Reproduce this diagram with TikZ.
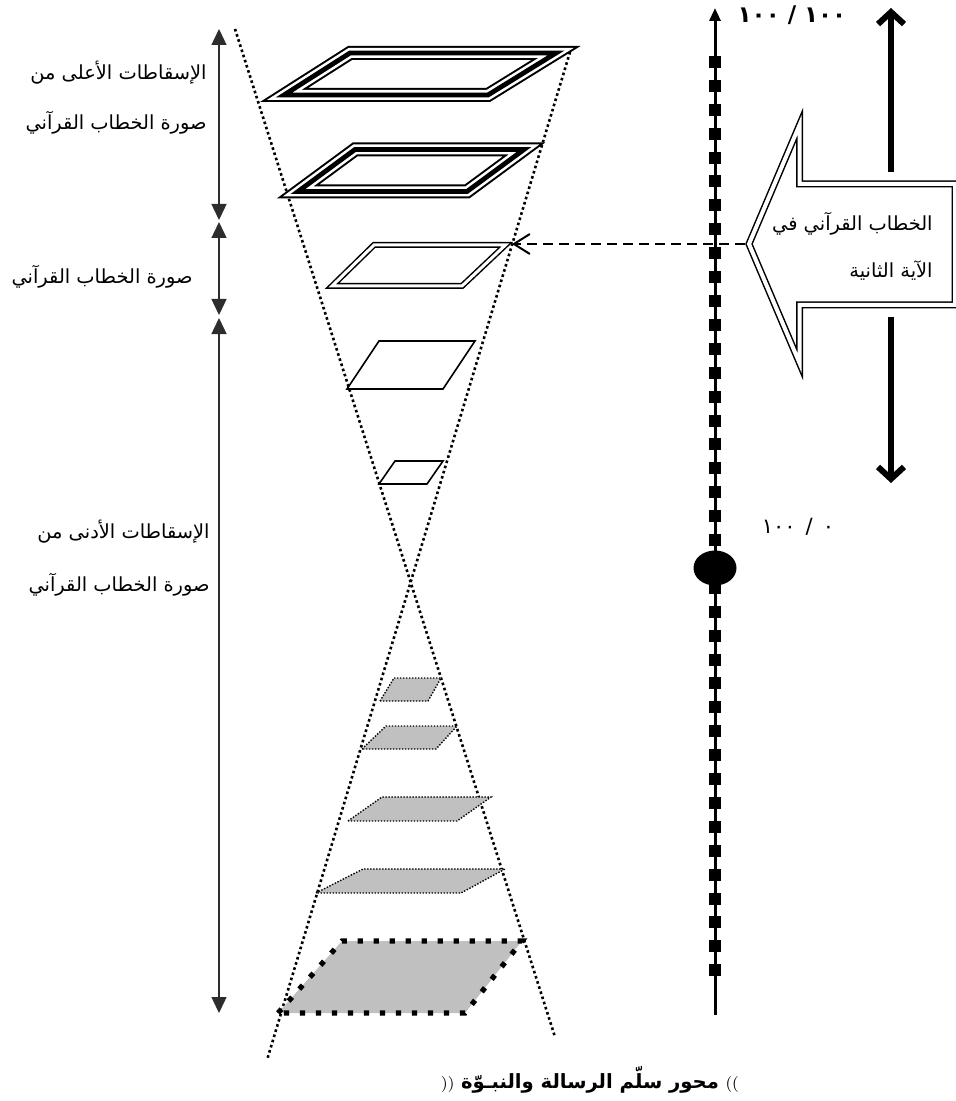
\documentclass[tikz,border=0pt]{standalone}
\usepackage{fontspec}
\usetikzlibrary{arrows.meta,calc,shapes.geometric}
\TeXXeTstate=1
\newfontfamily\arabicfont[Script=Arabic]{DejaVu Sans}
\newfontfamily\digitfont{DejaVu Sans}
\definecolor{Ink}{RGB}{0,0,0}
\definecolor{BracketGray}{RGB}{45,45,45}
\definecolor{PlateGray}{RGB}{192,192,192}
\tikzset{
  >=Latex,
  sidelabel/.style={font=\arabicfont\fontsize{9.7}{25}\selectfont,align=right,anchor=east,inner sep=0pt,text=Ink},
  boxlabel/.style={font=\arabicfont\fontsize{9.7}{23.5}\selectfont,align=right,anchor=east,inner sep=0pt,text=Ink},
  marklabel/.style={font=\digitfont\fontsize{10.5}{12}\selectfont,inner sep=0pt,text=Ink},
  bracket/.style={{Triangle[length=8pt,width=7.5pt]}-{Triangle[length=8pt,width=7.5pt]},line width=.7pt,draw=BracketGray},
  ray/.style={line width=1.3pt,dash pattern=on 1.3pt off 1.4pt,draw=Ink},
  tripleplate/.style={draw=white,line width=5pt,preaction={draw=Ink,line width=7pt},postaction={draw=Ink,line width=2.4pt}},
  doubleplate/.style={draw=Ink,double=white,line width=.75pt,double distance=1.5pt},
  plainplate/.style={draw=Ink,line width=.8pt},
  faintplate/.style={draw=Ink,fill=PlateGray,line width=.7pt,dash pattern=on .7pt off .8pt},
  heavyplate/.style={draw=Ink,fill=PlateGray,line width=2.6pt,dash pattern=on 2.6pt off 5.4pt},
  axisline/.style={-{Triangle[length=6.5pt,width=5.5pt]},line width=1.5pt,draw=Ink},
  tick/.style={rectangle,fill=Ink,minimum size=6pt,inner sep=0pt},
  origin/.style={ellipse,fill=Ink,minimum width=21.5pt,minimum height=17.5pt,inner sep=0pt},
  bigarrow/.style={-{Straight Barb[length=6pt,width=13pt]},line width=3pt,draw=Ink},
  blockarrow/.style={draw=Ink,double=white,line width=.75pt,double distance=2pt,line join=miter},
  pointer/.style={-{Straight Barb[length=8pt,width=10pt]},line width=1pt,dash pattern=on 5pt off 3pt,draw=Ink}
}
\begin{document}
\begin{tikzpicture}[x=.5pt,y=-.5pt]
  \useasboundingbox (0,0) rectangle (955,1101);
  \coordinate (rayA1) at (235,29);
  \coordinate (rayA2) at (555,1037);
  \coordinate (rayB1) at (570,52);
  \coordinate (rayB2) at (267,1060);
  \draw[ray] (rayA1)--(rayA2);
  \draw[ray] (rayB1)--(rayB2);
  \draw[tripleplate] (284,95)--(350,53)--(556,53)--(488,95)--cycle;
  \draw[tripleplate] (298,191.5)--(355,149.5)--(524,149.5)--(467,191.5)--cycle;
  \draw[doubleplate] (332,286)--(374,245)--(505.5,245)--(462,286)--cycle;
  \draw[plainplate] (347,389)--(379,341)--(475,341)--(443,389)--cycle;
  \draw[plainplate] (379,484)--(395,461)--(443,461)--(427,484)--cycle;
  \draw[faintplate] (380,701)--(394,678)--(441,678)--(428,701)--cycle;
  \draw[faintplate] (362,749)--(386,726)--(457,726)--(436,749)--cycle;
  \draw[faintplate] (348,821)--(382,797)--(491,797)--(457,821)--cycle;
  \draw[faintplate] (316,893)--(363,869)--(505,869)--(461,893)--cycle;
  \draw[heavyplate] (278,1013)--(342,941)--(522,941)--(465,1013)--cycle;
  \coordinate (b0) at (219,29);
  \coordinate (b1) at (219,220);
  \coordinate (b2) at (219,222);
  \coordinate (b3) at (219,315);
  \coordinate (b4) at (219,318);
  \coordinate (b5) at (219,1013);
  \draw[bracket] (b0)--(b1);
  \draw[bracket] (b2)--(b3);
  \draw[bracket] (b4)--(b5);
  \node[sidelabel] (upperNote) at (207,98) {\beginR الإسقاطات الأعلى من\endR\\\beginR صورة الخطاب القرآني\endR};
  \node[sidelabel] (midNote) at (193,277) {\beginR صورة الخطاب القرآني\endR};
  \node[sidelabel,font=\arabicfont\fontsize{9.7}{26.5}\selectfont] (lowerNote) at (210,558) {\beginR الإسقاطات الأدنى من\endR\\\beginR صورة الخطاب القرآني\endR};
  \coordinate (axisBot) at (715,1015);
  \coordinate (axisTop) at (715,8);
  \draw[axisline] (axisBot)--(axisTop);
  \foreach \k in {0,...,38}
    \node[tick] (tick\k) at (715,{62+23.9*\k}) {};
  \node[origin] (zero) at (715,568) {};
  \node[marklabel,font=\digitfont\bfseries\fontsize{11.5}{13}\selectfont] (fullMark) at (792,15) {\beginR ١٠٠ / ١٠٠\endR};
  \node[marklabel] (zeroMark) at (798,527) {\beginR ٠\hspace{5pt}/\hspace{5pt}١٠٠\endR};
  \coordinate (upFrom) at (891,172);
  \coordinate (upTo) at (891,8);
  \coordinate (downFrom) at (891,317);
  \coordinate (downTo) at (891,483);
  \draw[bigarrow] (upFrom)--(upTo);
  \draw[bigarrow] (downFrom)--(downTo);
  \draw[blockarrow] (749,244)--(799.5,125)--(799.5,184)--(955,184)--(955,305)--(799.5,305)--(799.5,363)--cycle;
  \node[boxlabel] (verseNote) at (933,246.5) {\beginR الخطاب القرآني في\endR\\\beginR الآية الثانية\endR};
  \coordinate (tip) at (745,244);
  \coordinate (plateC) at (512,244);
  \draw[pointer] (tip)--(plateC);
  \node[inner sep=0pt] (caption) at (590,1080) {{\fontsize{8}{10}\selectfont ))} {\arabicfont\bfseries\fontsize{9.8}{12}\selectfont\beginR محور سلّم الرسالة والنبـوّة\endR} {\fontsize{8}{10}\selectfont ((}};
\end{tikzpicture}
\end{document}
